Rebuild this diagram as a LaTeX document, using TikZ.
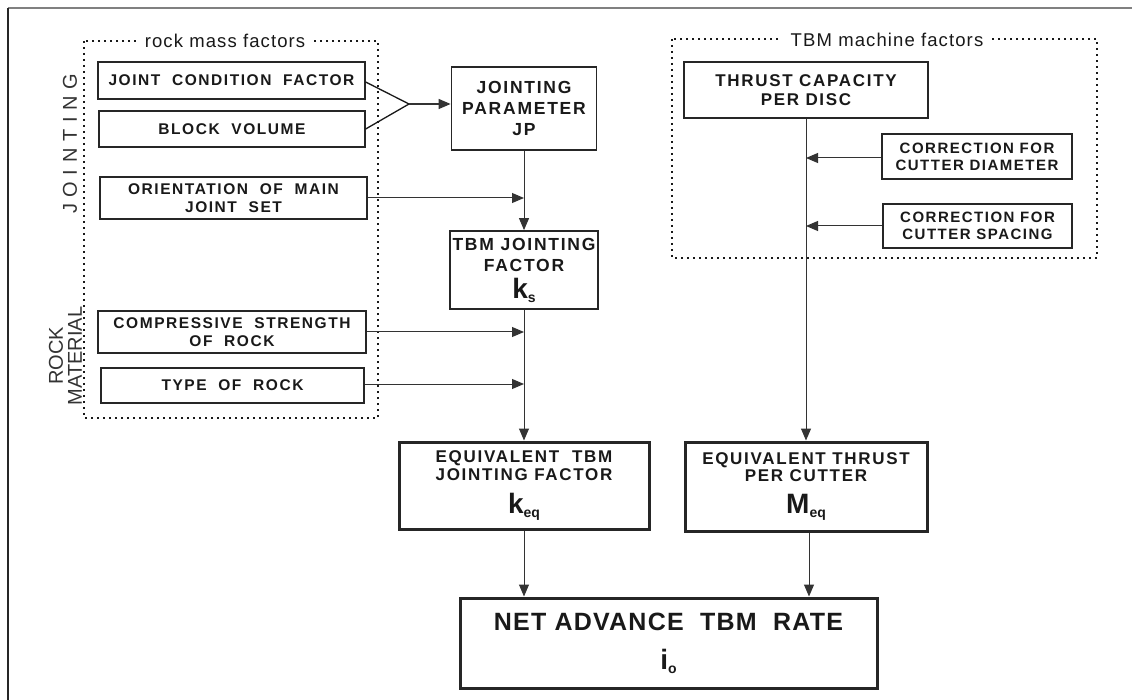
\documentclass[tikz,border=0pt]{standalone}
\usepackage{fontspec}
\setmainfont{Liberation Sans}
\newfontfamily\lsf[LetterSpace=10]{Liberation Sans}
\newfontfamily\nsf[LetterSpace=5]{Liberation Sans}
\newfontfamily\tsf[LetterSpace=6]{Liberation Sans}
\usetikzlibrary{arrows.meta,calc}
\newcommand\bigsym[2]{{\normalfont\bfseries\fontsize{28}{28}\selectfont #1\raisebox{-4pt}{\fontsize{14}{14}\selectfont #2}}}
\begin{document}
\begin{tikzpicture}[x=1pt,y=-1pt,
  fbox/.style={draw=black!85, line width=1.3pt, inner sep=0pt, align=center,
    font=\lsf\bfseries\fontsize{15.5}{18}\selectfont, text=black!90},
  mbox/.style={fbox, line width=1.8pt, font=\lsf\bfseries\fontsize{17.5}{21}\selectfont},
  kbox/.style={fbox, line width=3pt, font=\lsf\bfseries\fontsize{17}{17.5}\selectfont},
  arr/.style={line width=1pt, draw=black!80, -{Triangle[length=12pt,width=10pt]}},
  dots/.style={line width=2pt, dash pattern=on 2pt off 4pt, draw=black!90},
  grp/.style={fill=white, inner xsep=9pt, inner ysep=4pt, font=\tsf\fontsize{18.5}{20}\selectfont, text=black!90},
  side/.style={rotate=90, inner sep=0pt, align=center, font=\fontsize{20}{19}\selectfont, text=black!80}]
\useasboundingbox (0,0) rectangle (1132,700);
\fill[white] (0,0) rectangle (1132,700);
% frame
\draw[line width=1.5pt, draw=black!50] (8,8) -- (1132,8);
\draw[line width=1.6pt, draw=black!85] (8,8) -- (8,700);
% group boxes
\draw[dots] (84,41) rectangle (378,418);
\draw[dots] (672,39) rectangle (1097,258);
\node[grp] (rmf) at (225,41) {rock mass factors};
\node[grp] (tmf) at (887,40) {TBM machine factors};
% side labels
\node[side] (jl) at (70,144) {J\,\,O\,\,I\,\,N\,\,T\,\,I\,\,N\,\,G};
\node[side] (rl) at (65.5,356) {ROCK\\MATERIAL};
% left boxes
\node[fbox, minimum width=267pt, minimum height=37pt] (jcf) at (231.5,80.5) {JOINT\ \ CONDITION\ \ FACTOR};
\node[fbox, minimum width=266pt, minimum height=36pt] (bv) at (232,129) {BLOCK\ \ VOLUME};
\node[fbox, minimum width=267pt, minimum height=42pt] (omj) at (233.5,198) {ORIENTATION\ \ OF\ \ MAIN\\JOINT\ \ SET};
\node[fbox, minimum width=268pt, minimum height=42pt] (ucs) at (232,332) {COMPRESSIVE\ \ STRENGTH\\OF\ \ ROCK};
\node[fbox, line width=2pt, minimum width=263pt, minimum height=35pt] (tor) at (232.5,385.5) {TYPE\ \ OF\ \ ROCK};
% middle column
\node[mbox, minimum width=145pt, minimum height=83pt] (jp) at (524,108.5) {JOINTING\\PARAMETER\\JP};
\node[mbox, minimum width=148pt, minimum height=78pt] (tjf) at (524,270) {TBM JOINTING\\FACTOR\\[6pt]\bigsym{k}{s}};
\node[kbox, minimum width=250pt, minimum height=87pt] (keq) at (524,485.5) {EQUIVALENT\ \ TBM\\JOINTING FACTOR\\[12pt]\bigsym{k}{eq}};
% right column
\node[mbox, font=\lsf\bfseries\fontsize{17}{19.5}\selectfont, minimum width=244pt, minimum height=56pt] (tcd) at (806,90) {THRUST CAPACITY\\PER DISC};
\node[fbox, font=\lsf\bfseries\fontsize{15}{17}\selectfont, minimum width=190pt, minimum height=45pt] (ccd) at (977,156.5) {CORRECTION FOR\\CUTTER DIAMETER};
\node[fbox, font=\lsf\bfseries\fontsize{15}{17}\selectfont, minimum width=189pt, minimum height=44pt] (ccs) at (977.5,226) {CORRECTION FOR\\CUTTER SPACING};
\node[kbox, minimum width=242pt, minimum height=89pt] (meq) at (806,486.5) {EQUIVALENT THRUST\\PER CUTTER\\[12pt]\bigsym{M}{eq}};
% result
\node[kbox, font=\nsf\bfseries\fontsize{25}{25}\selectfont, minimum width=417pt, minimum height=90pt] (net) at (668.5,643) {NET ADVANCE\ \ TBM\ \ RATE\\[14pt]\bigsym{i}{o}};
% connectors
\coordinate (merge) at (409,104);
\draw[line width=1.3pt, draw=black!90] (jcf.east) ++(0,1.5) -- (merge);
\draw[line width=1.3pt, draw=black!90] (bv.east) -- (merge);
\draw[arr, line width=1.3pt] (merge) -- (merge -| jp.west);
\draw[arr] (jp.south) -- (tjf.north);
\draw[arr] (omj.east) -- (omj.east -| jp.south);
\draw[arr] (tjf.south) -- (keq.north);
\draw[arr] (ucs.east) -- (ucs.east -| tjf.south);
\draw[arr] (tor.east) ++(0,-1.5) -- ($(tor.east -| tjf.south)+(0,-1.5)$);
\draw[arr] (keq.south) -- (keq.south |- net.north);
\draw[arr] (tcd.south) -- (meq.north);
\draw[arr] (ccd.west) ++(0,1.5) -- ($(ccd.west -| tcd.south)+(0,1.5)$);
\draw[arr] (ccs.west) -- (ccs.west -| tcd.south);
\draw[arr] ([xshift=3pt]meq.south) -- ([xshift=3pt]meq.south |- net.north);
\end{tikzpicture}
\end{document}
